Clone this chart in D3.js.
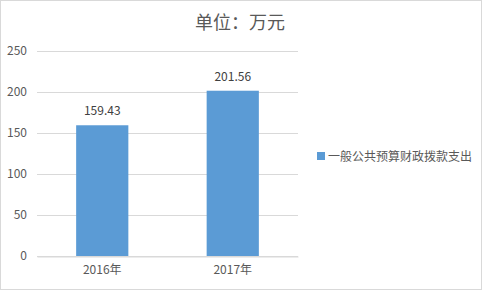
<!DOCTYPE html>
<html>
<head>
<meta charset="utf-8">
<script src="https://cdn.jsdelivr.net/npm/d3@7"></script>
<style>
  html, body { margin: 0; padding: 0; background: #fff; }
  svg { display: block; }
  text { font-family: "Noto Sans CJK SC", "Microsoft YaHei", sans-serif; }
</style>
</head>
<body>
<script>
// Chart data
const categories = ["2016年", "2017年"];
const values = [159.43, 201.56];
const yTicks = [0, 50, 100, 150, 200, 250];
const seriesName = "一般公共预算财政拨款支出";
const titleText = "单位：万元";

const W = 482, H = 290;
const margin = { left: 37, right: 184, top: 51, bottom: 34 };

const svg = d3.select("body").append("svg")
  .attr("width", W).attr("height", H);

// chart area border
svg.append("rect")
  .attr("x", 0.5).attr("y", 0.5)
  .attr("width", W - 1).attr("height", H - 1)
  .attr("fill", "#fff").attr("stroke", "#d9d9d9");

const x = d3.scaleBand()
  .domain(categories)
  .range([margin.left, W - margin.right])
  .paddingInner(0.6).paddingOuter(0.3);

const y = d3.scaleLinear()
  .domain([0, 250])
  .range([H - margin.bottom, margin.top]);

// horizontal gridlines
svg.append("g")
  .selectAll("line")
  .data(yTicks)
  .join("line")
  .attr("x1", margin.left).attr("x2", W - margin.right)
  .attr("y1", d => Math.round(y(d)) + 0.5).attr("y2", d => Math.round(y(d)) + 0.5)
  .attr("stroke", "#d9d9d9").attr("stroke-width", 1);

// y axis labels
const yAxis = d3.axisLeft(y).tickValues(yTicks).tickSize(0).tickPadding(10);
const gy = svg.append("g")
  .attr("transform", `translate(${margin.left},0)`)
  .call(yAxis);
gy.select(".domain").remove();
gy.selectAll("text")
  .attr("fill", "#595959")
  .style("font-size", "12px");

// bars
svg.append("g")
  .selectAll("rect")
  .data(values)
  .join("rect")
  .attr("x", (d, i) => x(categories[i]))
  .attr("width", x.bandwidth())
  .attr("y", d => y(d))
  .attr("height", d => y(0) - y(d))
  .attr("fill", "#5b9bd5");

// value labels
svg.append("g")
  .selectAll("text")
  .data(values)
  .join("text")
  .attr("x", (d, i) => x(categories[i]) + x.bandwidth() / 2)
  .attr("y", d => y(d) - 10)
  .attr("text-anchor", "middle")
  .attr("fill", "#404040")
  .style("font-size", "12px")
  .text(d => d.toFixed(2));

// x axis
const xAxis = d3.axisBottom(x).tickSize(0).tickPadding(9);
const gx = svg.append("g")
  .attr("transform", `translate(0,${y(0) + 0.5})`)
  .call(xAxis);
gx.select(".domain").attr("stroke", "#d9d9d9");
gx.selectAll("text")
  .attr("fill", "#595959")
  .style("font-size", "12px");

// title
svg.append("text")
  .attr("x", 240).attr("y", 29)
  .attr("text-anchor", "middle")
  .attr("fill", "#595959")
  .style("font-size", "18px")
  .text(titleText);

// legend
const lg = svg.append("g").attr("transform", "translate(317,152)");
lg.append("rect")
  .attr("x", 0).attr("y", 0).attr("width", 8).attr("height", 8)
  .attr("fill", "#5b9bd5");
lg.append("text")
  .attr("x", 11).attr("y", 8.5)
  .attr("fill", "#595959")
  .style("font-size", "12px")
  .text(seriesName);
</script>
</body>
</html>
